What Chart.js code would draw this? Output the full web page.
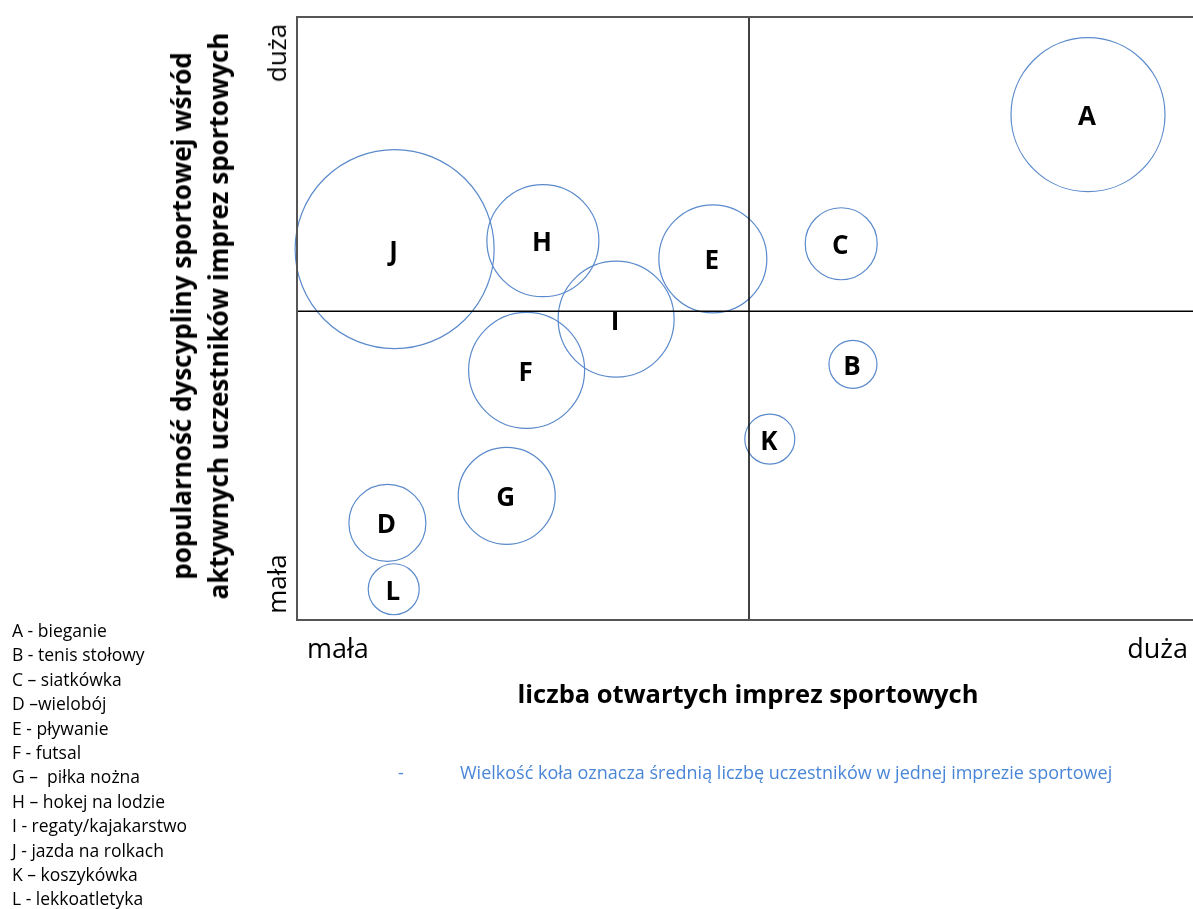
<!DOCTYPE html>
<html lang="pl">
<head>
<meta charset="utf-8">
<script src="https://cdn.jsdelivr.net/npm/chart.js@4.4.1/dist/chart.umd.min.js"></script>
<style>
  html, body { margin: 0; padding: 0; background: #fff; overflow: hidden; }
  body { width: 1193px; height: 909px; position: relative; font-family: 'Open Sans', sans-serif; color: #000; }
  #wrap { position: absolute; left: 0; top: 0; width: 1210px; height: 909px; }
  .txt { position: absolute; white-space: nowrap; }
  .rot { transform: translate(-50%, -50%) rotate(-90deg); }
  #legend { position: absolute; left: 12px; top: 618px; font-size: 17.5px; line-height: 24.4px; }
  #ytitle { position: absolute; left: 200px; top: 316px; transform: translate(-50%, -50%) rotate(-90deg);
            font-weight: bold; font-size: 26px; line-height: 37px; text-align: center; white-space: nowrap; }
</style>
</head>
<body>
<div id="wrap"><canvas id="bubbleChart" width="1210" height="909"></canvas></div>

<div id="ytitle">popularność dyscypliny sportowej wśród<br>aktywnych uczestników imprez sportowych</div>
<div class="txt rot" style="left:276px; top:53px; font-size:26px;">duża</div>
<div class="txt rot" style="left:276px; top:584px; font-size:26px;">mała</div>
<div class="txt" style="left:307px; top:629px; font-size:27px;">mała</div>
<div class="txt" style="right:5px; top:629px; font-size:27px;">duża</div>
<div class="txt" style="left:748px; top:676px; transform: translateX(-50%); font-weight:bold; font-size:25.5px;">liczba otwartych imprez sportowych</div>
<div class="txt" style="left:398px; top:760px; font-size:18px; color:#4a86d8;">-</div>
<div class="txt" style="left:460px; top:760px; font-size:18px; color:#4a86d8;">Wielkość koła oznacza średnią liczbę uczestników w jednej imprezie sportowej</div>
<div id="legend"></div>

<script>
// ---- data (0..100 on both axes) ----
const letters = ['A', 'B', 'C', 'D', 'E', 'F', 'G', 'H', 'I', 'J', 'K', 'L'];
const legendLines = [
    'A - bieganie',
    'B - tenis stołowy',
    'C – siatkówka',
    'D –wielobój',
    'E - pływanie',
    'F - futsal',
    'G –  piłka nożna',
    'H – hokej na lodzie',
    'I - regaty/kajakarstwo',
    'J - jazda na rolkach',
    'K – koszykówka',
    'L - lekkoatletyka'
];
// liczba otwartych imprez (x)
const eventsCount = [87.5, 61.5, 60.2, 10.0, 46.0, 25.4, 23.2, 27.2, 35.3, 10.8, 52.3, 10.7];
// popularnosc (y)
const popularity = [83.8, 42.4, 62.4, 16.1, 59.9, 41.4, 20.6, 62.9, 49.9, 61.5, 30.0, 5.1];
// srednia liczba uczestnikow -> promien kola
const bubbleSize = [77, 24, 36, 38.5, 54, 58, 48.5, 56, 58, 99.5, 25, 25.5];
// podzial na cwiartki
const midX = 50;
const midY = 51.2;

document.getElementById('legend').innerHTML = legendLines.map(l => `<div style="white-space:pre">${l}</div>`).join('');

const bubbles = letters.map((l, i) => ({ x: eventsCount[i], y: popularity[i], r: bubbleSize[i] }));

const boxPlugin = {
    id: 'box',
    afterDraw(chart) {
        const { ctx, chartArea: a } = chart;
        ctx.save();
        ctx.strokeStyle = '#555';
        ctx.lineWidth = 2;
        ctx.strokeRect(a.left, a.top, a.right - a.left, a.bottom - a.top);
        ctx.restore();
    }
};

const letterPlugin = {
    id: 'letters',
    afterDatasetsDraw(chart) {
        const meta = chart.getDatasetMeta(2);
        const ctx = chart.ctx;
        ctx.save();
        ctx.fillStyle = '#000';
        ctx.font = 'bold 26px "Open Sans"';
        ctx.textAlign = 'center';
        ctx.textBaseline = 'middle';
        meta.data.forEach((el, i) => {
            ctx.fillText(letters[i], el.x - 1, el.y + 3);
        });
        ctx.restore();
    }
};

new Chart(document.getElementById('bubbleChart'), {
    type: 'bubble',
    data: {
        datasets: [
            {
                type: 'line',
                data: [{ x: midX, y: 0 }, { x: midX, y: 100 }],
                borderColor: '#000',
                borderWidth: 1.5,
                pointRadius: 0
            },
            {
                type: 'line',
                data: [{ x: 0, y: midY }, { x: 100, y: midY }],
                borderColor: '#000',
                borderWidth: 1.5,
                pointRadius: 0
            },
            {
                data: bubbles,
                backgroundColor: 'rgba(0,0,0,0)',
                borderColor: '#5a8acb',
                borderWidth: 1.2,
                clip: false
            }
        ]
    },
    options: {
        responsive: false,
        animation: false,
        devicePixelRatio: 1,
        events: [],
        layout: { autoPadding: false, padding: { left: 297, top: 17, right: 9, bottom: 289 } },
        scales: {
            x: { type: 'linear', min: 0, max: 100, display: false },
            y: { type: 'linear', min: 0, max: 100, display: false }
        },
        plugins: { legend: { display: false }, tooltip: { enabled: false } }
    },
    plugins: [boxPlugin, letterPlugin]
});
</script>
</body>
</html>
